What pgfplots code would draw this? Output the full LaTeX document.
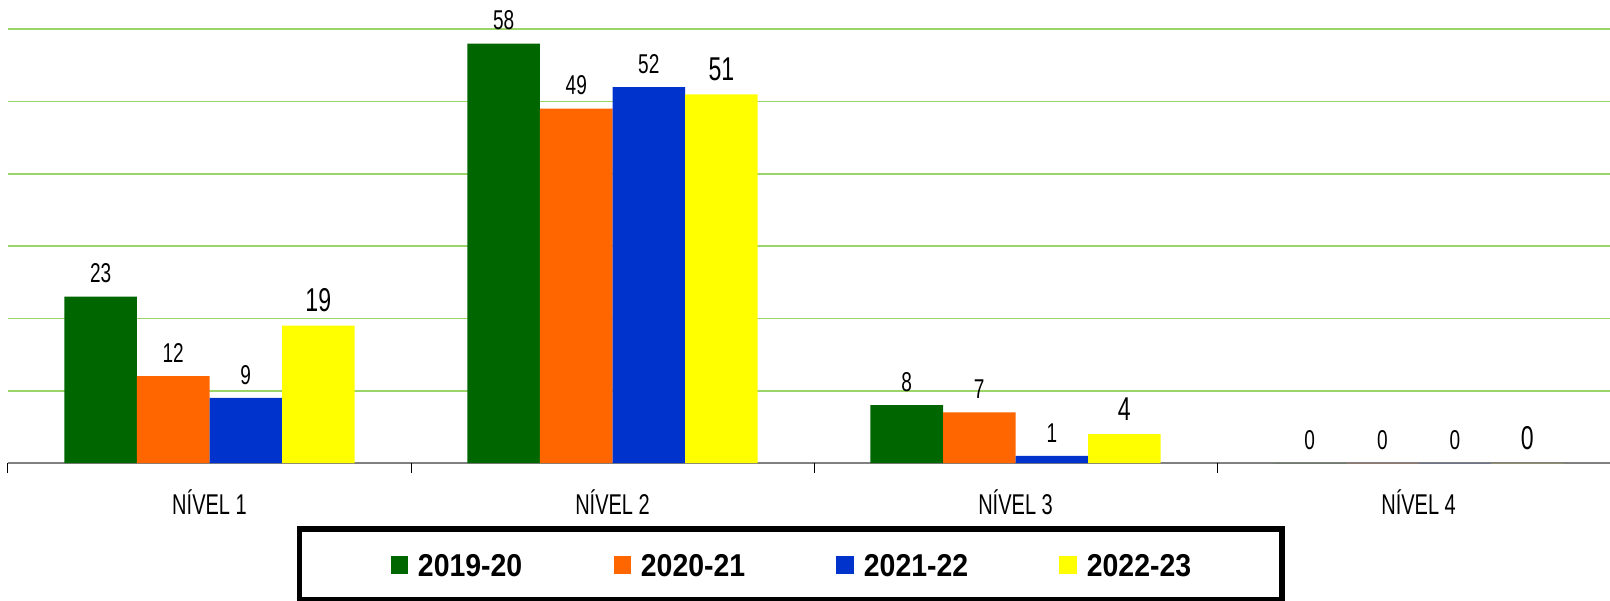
\documentclass[border=0pt]{standalone}
\usepackage{pgfplots}
\pgfplotsset{compat=1.18}
\usepackage{fontspec}
\setmainfont{Liberation Sans}
\newfontfamily\labfont{Liberation Sans}[FakeStretch=0.7]
\newfontfamily\legfont{Liberation Sans}[FakeStretch=0.9]
\definecolor{cA}{RGB}{0,102,0}
\definecolor{cB}{RGB}{255,102,0}
\definecolor{cC}{RGB}{0,51,204}
\definecolor{cD}{RGB}{255,255,0}
\definecolor{gridgreen}{RGB}{155,212,105}
\newcommand{\smallf}{\labfont\fontsize{13.6}{14}\selectfont}
\newcommand{\bigf}{\labfont\fontsize{16.5}{17}\selectfont}
\begin{document}
\begin{tikzpicture}
\begin{axis}[
  at={(4pt,68.5pt)}, anchor=south west,
  scale only axis, width=801pt, height=216.9pt,
  xmin=-0.5, xmax=3.475, ymin=0, ymax=60,
  ybar=0pt, bar width=0.18,
  /pgf/number format/assume math mode=true,
  axis x line*=bottom, axis y line*=left,
  x axis line style={draw=gray, line width=1pt, -},
  y axis line style={draw=none},
  major tick length=0pt,
  xtick={0,1,2,3},
  xticklabels={NÍVEL 1,NÍVEL 2,NÍVEL 3,NÍVEL 4},
  extra x ticks={-0.5,0.5,1.5,2.5},
  extra x tick labels={},
  extra x tick style={major tick length=5pt, tick align=outside,
     tick style={black, line width=0.5pt}, grid=none},
  ytick={10,20,...,60}, yticklabels={},
  ytick style={draw=none},
  ymajorgrids, major grid style={color=gridgreen, line width=0.8pt},
  xticklabel style={font=\labfont\fontsize{14.3}{15}\selectfont, text height=10.4pt,
     inner sep=0pt, anchor=north, yshift=-15pt},
  clip=false,
  nodes near coords,
  every node near coord/.append style={inner sep=0pt, anchor=south, yshift=6.6pt, text=black},
  legend columns=4,
  legend style={at={(0.4887,-0.234)}, anchor=center, draw=black, line width=2.8pt,
     inner xsep=45.5pt, inner ysep=12pt,
     font=\legfont\bfseries\fontsize{15.8}{16}\selectfont,
     nodes={inner sep=0pt, text height=11.5pt, text depth=0pt},
     /tikz/every odd column/.append style={column sep=5pt},
     /tikz/every even column/.append style={column sep=45.6pt}},
  legend image code/.code={\fill[#1, draw=none] (0pt,-4.5pt) rectangle (8.7pt,4.5pt);},
]
\addplot[fill=cA, draw=none, every node near coord/.append style={font=\smallf}]
  coordinates {(0,23) (1,58) (2,8) (3,0)};
\addplot[fill=cB, draw=none, every node near coord/.append style={font=\smallf}]
  coordinates {(0,12) (1,49) (2,7) (3,0)};
\addplot[fill=cC, draw=none, every node near coord/.append style={font=\smallf}]
  coordinates {(0,9) (1,52) (2,1) (3,0)};
\addplot[fill=cD, draw=none, every node near coord/.append style={font=\bigf}]
  coordinates {(0,19) (1,51) (2,4) (3,0)};
\legend{2019-20,2020-21,2021-22,2022-23}
\end{axis}
\pgfresetboundingbox
\path (0,0) rectangle (805pt,300pt);
\end{tikzpicture}
\end{document}
